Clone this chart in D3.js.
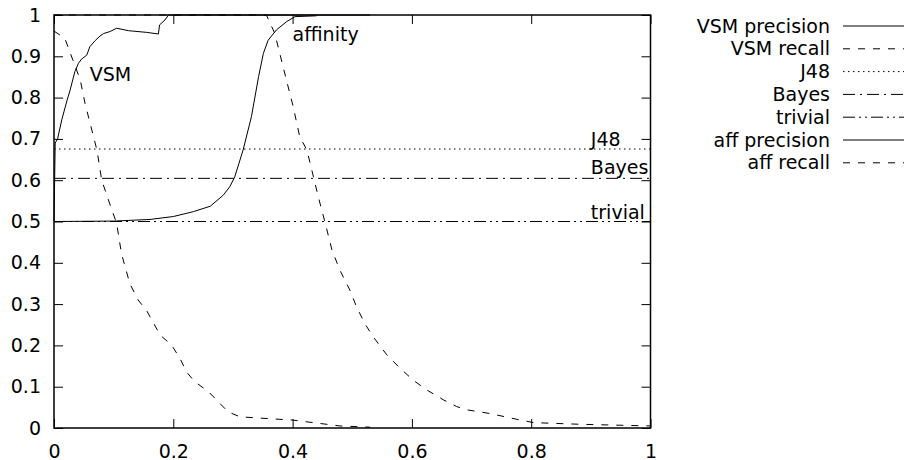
<!DOCTYPE html>
<html>
<head>
<meta charset="utf-8">
<script src="https://cdn.jsdelivr.net/npm/d3@7"></script>
<style>
  body { margin: 0; background: #fff; }
  svg text { font-family: "DejaVu Sans", sans-serif; font-size: 19px; fill: #000; }
</style>
</head>
<body>
<div id="chart"></div>
<script>
// values, [threshold, value]
var vsmPrecision = [[0,0.5],[0.002,0.69],[0.006,0.70],[0.013,0.746],[0.022,0.794],[0.027,0.818],[0.035,0.863],
    [0.041,0.883],[0.046,0.893],[0.055,0.903],[0.060,0.923],[0.069,0.938],[0.077,0.949],[0.083,0.955],
    [0.094,0.960],[0.105,0.968],[0.125,0.962],[0.155,0.958],[0.175,0.954],[0.177,0.976],[0.186,0.988],
    [0.192,1.0],[0.53,1.0]];
var vsmRecall = [[0,0.961],[0.018,0.944],[0.044,0.843],[0.052,0.786],[0.072,0.673],[0.080,0.60],[0.097,0.528],
    [0.105,0.496],[0.113,0.423],[0.127,0.35],[0.141,0.31],[0.155,0.285],[0.178,0.225],[0.197,0.201],
    [0.211,0.169],[0.222,0.136],[0.236,0.112],[0.259,0.088],[0.275,0.064],[0.292,0.039],[0.312,0.027],
    [0.368,0.022],[0.401,0.019],[0.446,0.011],[0.479,0.005],[0.53,0.002]];
var affPrecision = [[0,0.5],[0.10,0.501],[0.161,0.505],[0.2,0.512],[0.234,0.524],[0.262,0.537],[0.284,0.564],
    [0.295,0.585],[0.303,0.608],[0.317,0.673],[0.331,0.754],[0.343,0.851],[0.351,0.907],[0.359,0.939],
    [0.373,0.964],[0.39,0.984],[0.404,0.996],[0.44,0.998]];
var affRecall = [[0,1],[0.356,1],[0.37,0.956],[0.384,0.875],[0.401,0.778],[0.412,0.705],[0.424,0.673],
    [0.435,0.608],[0.443,0.56],[0.454,0.5],[0.466,0.431],[0.479,0.383],[0.496,0.334],[0.507,0.294],
    [0.521,0.253],[0.535,0.221],[0.558,0.177],[0.58,0.145],[0.602,0.116],[0.625,0.092],[0.653,0.068],
    [0.675,0.052],[0.692,0.044],[0.731,0.035],[0.776,0.021],[0.804,0.013],[0.882,0.009],[1.0,0.005]];
var j48 = 0.6755, bayes = 0.6045, trivial = 0.5;

var xTicks = [0, 0.2, 0.4, 0.6, 0.8, 1];
var yTicks = [0, 0.1, 0.2, 0.3, 0.4, 0.5, 0.6, 0.7, 0.8, 0.9, 1];
var legendNames = ["VSM precision", "VSM recall", "J48", "Bayes", "trivial", "aff precision", "aff recall"];

var width = 904, height = 460;
var x = d3.scaleLinear().domain([0, 1]).range([54, 650.5]);
var y = d3.scaleLinear().domain([0, 1]).range([428, 15]);

var dashes = {
    solid: null,
    dashed: "7,8",
    dotted: "1.5,3.5",
    dashdot: "12,5,2,5",
    dashdotdot: "12,4,2,4,2,4"
};

var svg = d3.select("#chart").append("svg")
    .attr("width", width)
    .attr("height", height);

var fmt = function(d) { return String(+d.toFixed(1)); };

// axes, ticks point inward on all four sides
var gx = svg.append("g").attr("transform", "translate(0," + y(0) + ")")
    .call(d3.axisBottom(x).tickValues(xTicks).tickSize(-9).tickPadding(17).tickFormat(fmt));
var gy = svg.append("g").attr("transform", "translate(" + x(0) + ",0)")
    .call(d3.axisLeft(y).tickValues(yTicks).tickSize(-9).tickPadding(13).tickFormat(fmt));
svg.append("g").attr("transform", "translate(0," + y(1) + ")")
    .call(d3.axisTop(x).tickValues(xTicks).tickSize(-9).tickFormat(""));
svg.append("g").attr("transform", "translate(" + x(1) + ",0)")
    .call(d3.axisRight(y).tickValues(yTicks).tickSize(-9).tickFormat(""));

svg.selectAll(".domain").remove();
svg.selectAll(".tick line").attr("stroke", "#000").attr("stroke-width", 1);
svg.selectAll(".tick text").attr("font-size", null).attr("font-family", null).attr("fill", "#000");
gx.selectAll(".tick text").attr("dy", "0.71em");

var line = d3.line().x(function(d) { return x(d[0]); }).y(function(d) { return y(d[1]); });

var plot = svg.append("g");
function drawLine(data, dash) {
    plot.append("path")
        .datum(data)
        .attr("d", line)
        .attr("fill", "none")
        .attr("stroke", "#000")
        .attr("stroke-width", 1)
        .attr("stroke-dasharray", dash);
}
function drawLevel(v, dash) {
    drawLine([[0, v], [1, v]], dash);
}

drawLine(vsmPrecision, dashes.solid);
drawLine(vsmRecall, dashes.dashed);
drawLevel(j48, dashes.dotted);
drawLevel(bayes, dashes.dashdot);
drawLevel(trivial, dashes.dashdotdot);
drawLine(affPrecision, dashes.solid);
drawLine(affRecall, dashes.dashed);

// border
svg.append("rect")
    .attr("x", x(0)).attr("y", y(1))
    .attr("width", x(1) - x(0)).attr("height", y(0) - y(1))
    .attr("fill", "none").attr("stroke", "#000").attr("stroke-width", 1.5);

// labels on the curves
var labels = [
    { text: "VSM", at: [0.06, 0.857] },
    { text: "affinity", at: [0.40, 0.952] },
    { text: "J48", at: [0.9, 0.70] },
    { text: "Bayes", at: [0.9, 0.63] },
    { text: "trivial", at: [0.9, 0.523] }
];
svg.selectAll(".lbl").data(labels).enter().append("text")
    .attr("class", "lbl")
    .attr("x", function(d) { return x(d.at[0]); })
    .attr("y", function(d) { return y(d.at[1]); })
    .attr("dy", "0.35em")
    .text(function(d) { return d.text; });

// legend
var legendStyles = [dashes.solid, dashes.dashed, dashes.dotted, dashes.dashdot, dashes.dashdotdot, dashes.solid, dashes.dashed];
var legend = svg.selectAll(".leg").data(legendNames).enter().append("g")
    .attr("class", "leg")
    .attr("transform", function(d, i) { return "translate(0," + (26 + i * 22.8) + ")"; });
legend.append("text")
    .attr("x", 830)
    .attr("dy", "0.35em")
    .attr("text-anchor", "end")
    .text(function(d) { return d; });
legend.append("line")
    .attr("x1", 843).attr("x2", 904)
    .attr("stroke", "#000")
    .attr("stroke-width", 1)
    .attr("stroke-dasharray", function(d, i) { return legendStyles[i]; });
</script>
</body>
</html>
